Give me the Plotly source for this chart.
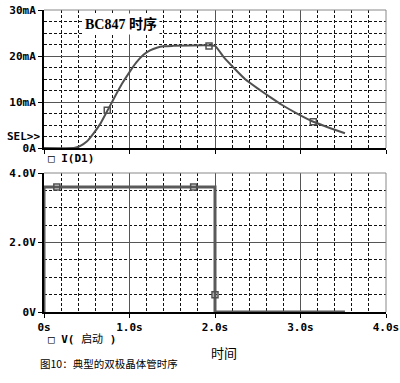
import plotly.graph_objects as go

# ---- data ----
cur_t = [0, 0.35, 0.42, 0.5, 0.58, 0.66, 0.75, 0.83, 0.91, 1.0, 1.08, 1.16, 1.24, 1.32, 1.40, 1.5, 2.0,
         2.1, 2.21, 2.35, 2.51, 2.65, 2.78, 2.95, 3.15, 3.35, 3.52]
cur_ma = [0, 0, 0.4, 1.4, 3.2, 5.3, 8.4, 11.2, 13.9, 16.5, 18.6, 20.2, 21.2, 21.8, 22.1, 22.2, 22.2,
          19.8, 17.6, 15.0, 12.8, 11.0, 9.4, 7.6, 5.7, 4.3, 3.2]
cur_mk_t = [0.74, 1.93, 3.15]
cur_mk_ma = [8.2, 22.2, 5.7]

volt_t = [0, 0, 2.0, 2.0, 3.52]
volt_v = [0, 3.6, 3.6, 0, 0]
volt_mk_t = [0.15, 1.75, 2.0]
volt_mk_v = [3.6, 3.6, 0.5]

x_tickvals = [0, 1, 2, 3, 4]
x_ticktext = ["0s", "1.0s", "2.0s", "3.0s", "4.0s"]
i_tickvals = [0, 10, 20, 30]
i_ticktext = ["0A", "10mA", "20mA", "30mA"]
v_tickvals = [0, 2, 4]
v_ticktext = ["0V", "2.0V", "4.0V"]

W, H = 400, 383
def px(x): return x / W
def py(y): return 1 - y / H

TOP = (10, 148)
BOT = (173, 312)
XL, XR = 44, 386

fig = go.Figure()
fig.add_trace(go.Scatter(x=cur_t, y=cur_ma, mode="lines", line=dict(color="#505050", width=2, shape="spline", smoothing=0.3),
                         xaxis="x", yaxis="y", showlegend=False, hoverinfo="skip"))
fig.add_trace(go.Scatter(x=cur_mk_t, y=cur_mk_ma, mode="markers",
                         marker=dict(symbol="square-open", size=6, color="#505050", line=dict(width=1.5)),
                         xaxis="x", yaxis="y", showlegend=False))
fig.add_trace(go.Scatter(x=volt_t, y=volt_v, mode="lines", line=dict(color="#5a5a5a", width=3),
                         xaxis="x2", yaxis="y2", showlegend=False, hoverinfo="skip"))
fig.add_trace(go.Scatter(x=volt_mk_t, y=volt_mk_v, mode="markers",
                         marker=dict(symbol="square-open", size=6, color="#505050", line=dict(width=1.5)),
                         xaxis="x2", yaxis="y2", showlegend=False))

tickfont = dict(family="DejaVu Sans Mono", size=11, color="black", weight="bold")
grid_common = dict(showgrid=True, gridcolor="#555", gridwidth=1, zeroline=False, automargin=False,
                   showline=True, linecolor="black", linewidth=2, ticks="outside",
                   ticklen=4, tickcolor="black", tickwidth=1)
MINC = "#111"
MIND = "3px,2px"
xminor = dict(dtick=0.2, showgrid=True, gridcolor=MINC, griddash=MIND, gridwidth=1, ticks="")

fig.update_layout(
    template="none",
    width=W, height=H, margin=dict(l=0, r=0, t=0, b=0, pad=0),
    paper_bgcolor="white", plot_bgcolor="white",
    xaxis=dict(domain=[px(XL), px(XR)], range=[0, 4], anchor="y", tickvals=x_tickvals,
               showticklabels=False, minor=xminor, **grid_common),
    yaxis=dict(domain=[py(TOP[1]), py(TOP[0])], range=[0, 30], anchor="x", tickvals=i_tickvals,
               ticktext=i_ticktext, tickfont=tickfont,
               minor=dict(dtick=2.5, showgrid=True, gridcolor=MINC, griddash=MIND, gridwidth=1, ticks=""),
               **grid_common),
    xaxis2=dict(domain=[px(XL), px(XR)], range=[0, 4], anchor="y2", tickvals=x_tickvals,
                ticktext=x_ticktext, tickfont=tickfont, minor=xminor, **grid_common),
    yaxis2=dict(domain=[py(BOT[1]), py(BOT[0])], range=[0, 4], anchor="x2", tickvals=v_tickvals,
                ticktext=v_ticktext, tickfont=tickfont,
                minor=dict(dtick=0.5, showgrid=True, gridcolor=MINC, griddash=MIND, gridwidth=1, ticks=""),
                **grid_common),
)

# gray top/right borders
for (yt, yb) in (TOP, BOT):
    fig.add_shape(type="line", xref="paper", yref="paper", x0=px(XL), x1=px(XR), y0=py(yt), y1=py(yt),
                  line=dict(color="#888", width=1))
    fig.add_shape(type="line", xref="paper", yref="paper", x0=px(XR), x1=px(XR), y0=py(yt), y1=py(yb),
                  line=dict(color="#888", width=1))

lbl = dict(family="DejaVu Sans Mono", size=11, color="black", weight="bold")
fig.add_annotation(xref="paper", yref="paper", x=px(121), y=py(24), text="BC847 时序", showarrow=False,
                   font=dict(family="Liberation Serif, Noto Sans CJK SC", size=14, color="black", weight="bold"),
                   bgcolor="white", borderpad=2, xanchor="center", yanchor="middle")
fig.add_annotation(xref="paper", yref="paper", x=px(5), y=py(136), text="SEL>>", showarrow=False,
                   font=lbl, xanchor="left", yanchor="middle")
fig.add_annotation(xref="paper", yref="paper", x=px(46), y=py(158), text="□ I(D1)", showarrow=False,
                   font=lbl, xanchor="left", yanchor="middle")
fig.add_annotation(xref="paper", yref="paper", x=px(46), y=py(338),
                   text="□ V( <span style='font-family:Noto Sans CJK SC;font-weight:normal'>启动</span> )",
                   showarrow=False, font=lbl, xanchor="left", yanchor="middle")
fig.add_annotation(xref="paper", yref="paper", x=px(224), y=py(352), text="时间", showarrow=False,
                   font=dict(family="Noto Sans CJK SC", size=13, color="black"), xanchor="center", yanchor="middle")
fig.add_annotation(xref="paper", yref="paper", x=px(38), y=py(363), text="图10：典型的双极晶体管时序", showarrow=False,
                   font=dict(family="Noto Sans CJK SC", size=10.5, color="black"), xanchor="left", yanchor="middle")

fig.write_html("out.html", config={"displayModeBar": False},
               post_script="document.body.style.margin='0';")
